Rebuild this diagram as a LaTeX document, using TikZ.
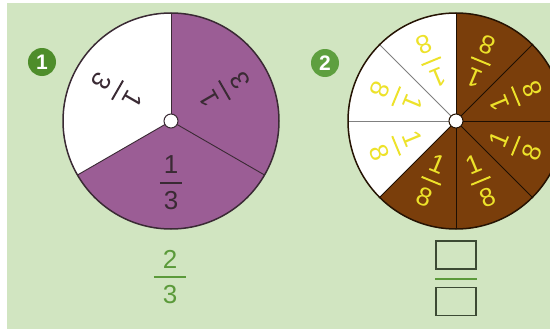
\documentclass[tikz,border=0pt]{standalone}
\usepackage{fontspec}
\setmainfont{Liberation Sans}
\usetikzlibrary{positioning}
\definecolor{PageGreen}{HTML}{D1E5C1}
\definecolor{PiePurple}{HTML}{9B5D95}
\definecolor{PieBrown}{HTML}{7A3E0B}
\definecolor{InkDark}{HTML}{3A2A34}
\definecolor{InkYellow}{HTML}{EDE22A}
\definecolor{BadgeDark}{HTML}{4E8D2B}
\definecolor{BadgeLight}{HTML}{5E9F3F}
\definecolor{AnswerGreen}{HTML}{5B9A3A}
\definecolor{BoxGrey}{HTML}{3C4A34}
% stacked fraction: [bar width]{numerator}{denominator}
\newcommand{\fracstack}[3][0.85em]{\vbox{\offinterlineskip\halign{\hfil##\hfil\cr
  #2\cr\noalign{\kern0.3em}\rule{#1}{0.075em}\cr\noalign{\kern0.3em}#3\cr}}}
\tikzset{
    % Fractions
    piefrac/.style={
        inner sep=0pt,
        font=\fontsize{26}{30}\selectfont
    },
    darkfrac/.style={piefrac, text=InkDark},
    yellowfrac/.style={piefrac, text=InkYellow},
    % Pie parts
    rim/.style={draw=#1, line width=1.5pt},
    divider/.style={draw=#1, line width=0.9pt},
    hole/.style={
        circle,
        draw=InkDark,
        fill=white,
        line width=1pt,
        minimum size=14pt,
        inner sep=0pt
    },
    badge/.style={
        circle,
        fill=#1,
        text=white,
        minimum size=28pt,
        inner sep=0pt,
        font=\bfseries\fontsize{21}{21}\selectfont
    },
    answerbox/.style={
        rectangle,
        draw=BoxGrey,
        line width=1.6pt,
        minimum width=40pt,
        minimum height=28pt,
        inner sep=0pt
    }
}
\begin{document}
\begin{tikzpicture}[x=1pt, y=1pt]
    \useasboundingbox (0,0) rectangle (550,333);
    \clip (0,0) rectangle (550,333);
    \fill[white] (0,0) rectangle (550,333);
    \fill[PageGreen] (7,4) rectangle (550,330);

    % Pie 1: thirds
    \coordinate (c1) at (171,212);
    \fill[white] (c1) circle (108);
    \fill[PiePurple] (c1) -- ++(210:108) arc (210:450:108) -- cycle;
    \foreach \a in {90,210,330}
        \draw[divider=InkDark] (c1) -- ++(\a:108);
    \draw[rim=InkDark] (c1) circle (108);
    \node[hole] (hole1) at (c1) {};
    \foreach \a/\n in {30/a, 150/b, 270/c}
        \node[darkfrac, rotate=\a+90] (third\n) at ([shift={(\a:62)}]c1)
            {\fracstack{1}{3}};
    \node[badge=BadgeDark] (badge1) at (42,271) {1};

    % Pie 2: eighths
    \coordinate (c2) at (456,212);
    \fill[white] (c2) circle (108);
    \fill[PieBrown] (c2) -- ++(225:108) arc (225:450:108) -- cycle;
    \foreach \a in {135,180}
        \draw[divider=gray] (c2) -- ++(\a:108);
    \foreach \a in {90,225,270,315,0,45}
        \draw[divider=black!75!PieBrown] (c2) -- ++(\a:108);
    \draw[rim=black!70!PieBrown] (c2) circle (108);
    \node[hole, draw=black!70!PieBrown] (hole2) at (c2) {};
    \foreach \a [count=\i] in {22.5,67.5,...,337.5}
        \node[yellowfrac, rotate=\a+90] (eighth\i) at ([shift={(\a:65)}]c2)
            {\fracstack[0.8em]{1}{8}};
    \node[badge=BadgeLight] (badge2) at (325,270) {2};

    % Answers
    \node[piefrac, text=AnswerGreen] (answer1) at (170,56)
        {\fracstack[1.25em]{2}{3}};
    \node[answerbox] (numbox) at (456,78) {};
    \node[answerbox, below=17pt of numbox] (denbox) {};
    \draw[AnswerGreen, line width=1.5pt]
        ([yshift=-9pt]numbox.south west) -- ([yshift=-9pt]numbox.south east);
\end{tikzpicture}
\end{document}
